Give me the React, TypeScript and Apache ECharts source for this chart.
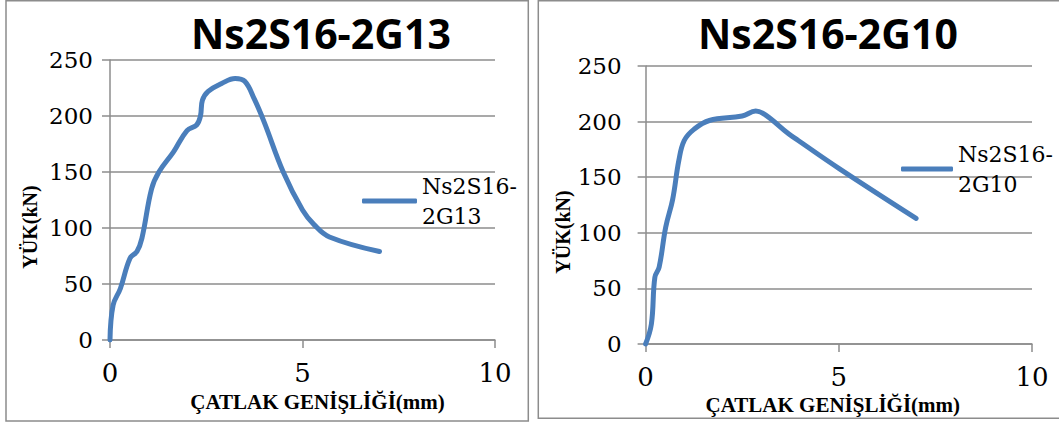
import React, { useEffect, useRef } from "react";
import * as echarts from "echarts";

const leftTitle = "Ns2S16-2G13";
const rightTitle = "Ns2S16-2G10";
const xAxisName = "ÇATLAK GENİŞLİĞİ(mm)";
const yAxisName = "YÜK(kN)";

// crack width (mm) / load (kN)
const leftCrack = [0, 0.08, 0.27, 0.52, 0.7, 0.83, 1.08, 1.27, 1.65, 2.0, 2.25, 2.35, 2.4, 2.55, 2.9, 3.25, 3.5, 3.75, 4.0, 4.5, 5.0, 5.3, 5.7, 7.0];
const leftLoad = [0, 31, 46, 73, 79, 91, 135, 150, 168, 187, 192, 200, 214, 222, 229, 233.5, 231, 215, 195, 150, 116, 103, 92, 79];

const rightCrack = [0, 0.15, 0.24, 0.35, 0.52, 0.7, 0.86, 1.0, 1.25, 1.65, 2.5, 2.85, 3.1, 3.7, 3.95, 5.0, 7.0];
const rightLoad = [0, 18, 60, 69, 105, 130, 165, 183, 193, 201, 205, 209.5, 206, 189, 183, 158, 113];

const xMin = 0;
const xMax = 10;
const xStep = 5;
const yMin = 0;
const yMax = 250;
const yStep = 50;

const blue = "#4a7ebb";
const gray = "#8c8c8c";
const serifTick = "'DejaVu Serif', serif";
const serifName = "'Liberation Serif', 'Times New Roman', serif";

function pairs(xs: number[], ys: number[]) {
  return xs.map((x, i) => [x, ys[i]]);
}

function xAxisFor(i: number, namePad: number[], nameGap: number) {
  return {
    gridIndex: i,
    type: "value",
    min: xMin,
    max: xMax,
    interval: xStep,
    name: xAxisName,
    nameLocation: "middle",
    nameGap,
    nameTextStyle: { fontFamily: serifName, fontWeight: "bold", fontSize: 21, color: "#000", padding: namePad },
    axisLine: { show: true, onZero: false, lineStyle: { color: gray, width: 1.5 } },
    axisTick: { show: true, length: 8, lineStyle: { color: gray, width: 1.5 } },
    axisLabel: { margin: 20, fontFamily: serifTick, fontSize: 26, color: "#000" },
    splitLine: { show: false },
  };
}

function yAxisFor(i: number, labelMargin: number, nameGap: number) {
  return {
    gridIndex: i,
    type: "value",
    min: yMin,
    max: yMax,
    interval: yStep,
    name: yAxisName,
    nameLocation: "middle",
    nameRotate: 90,
    nameGap,
    nameTextStyle: { fontFamily: serifName, fontWeight: "bold", fontSize: 20, color: "#000", padding: [0, 54, 0, 0] },
    axisLine: { show: true, lineStyle: { color: gray, width: 1.5 } },
    axisTick: { show: true, length: 8, lineStyle: { color: gray, width: 1.5 } },
    axisLabel: { margin: labelMargin, fontFamily: serifTick, fontSize: 23, color: "#000" },
    splitLine: { show: true, lineStyle: { color: gray, width: 1.5 } },
  };
}

function legendFor(name: string, left: number, top: number, width: number) {
  return {
    data: [name],
    left,
    top,
    padding: 0,
    selectedMode: false,
    icon: "roundRect",
    itemWidth: width,
    itemHeight: 5,
    formatter: (n: string) => n.replace("-", "-\n"),
    textStyle: { fontFamily: serifTick, fontSize: 22, color: "#000", lineHeight: 30, padding: [30, 0, 0, 0] },
  };
}

function seriesFor(name: string, i: number, xs: number[], ys: number[]) {
  return {
    name,
    type: "line",
    xAxisIndex: i,
    yAxisIndex: i,
    data: pairs(xs, ys),
    smooth: 0.4,
    showSymbol: false,
    symbol: "none",
    clip: false,
    itemStyle: { color: blue },
    lineStyle: { width: 5, color: blue, cap: "round", join: "round" },
  };
}

export default function App() {
  const ref = useRef<HTMLDivElement>(null);
  useEffect(() => {
    if (!ref.current) return;
    const chart = echarts.init(ref.current, null, { renderer: "svg" });
    const titleStyle = { fontFamily: "'Open Sans', sans-serif", fontWeight: "bold", fontSize: 41, color: "#000" };
    chart.setOption({
      animation: false,
      backgroundColor: "#fff",
      title: [
        { text: leftTitle, left: 191, top: 12, padding: 0, textStyle: titleStyle },
        { text: rightTitle, left: 698, top: 12, padding: 0, textStyle: titleStyle },
      ],
      legend: [legendFor(leftTitle, 362, 156, 55), legendFor(rightTitle, 901, 124, 52)],
      grid: [
        { left: 110, top: 60, width: 385, height: 280 },
        { left: 645.6, top: 66, width: 386.4, height: 278 },
      ],
      xAxis: [xAxisFor(0, [0, 0, 0, 30], 51), xAxisFor(1, [0, 12, 0, 0], 48)],
      yAxis: [yAxisFor(0, 17, 70), yAxisFor(1, 24, 73)],
      series: [seriesFor(leftTitle, 0, leftCrack, leftLoad), seriesFor(rightTitle, 1, rightCrack, rightLoad)],
      graphic: [
        { type: "rect", shape: { x: 6, y: 0.75, width: 522.3, height: 420.3 }, style: { fill: "none", stroke: gray, lineWidth: 1.5 }, silent: true },
        { type: "rect", shape: { x: 538.3, y: 0.75, width: 530, height: 417.5 }, style: { fill: "none", stroke: gray, lineWidth: 1.5 }, silent: true },
      ],
    });
    return () => chart.dispose();
  }, []);
  return (
    <div
      ref={ref}
      style={{ position: "absolute", left: 0, top: 0, width: 1059, height: 425, background: "#fff" }}
    />
  );
}
